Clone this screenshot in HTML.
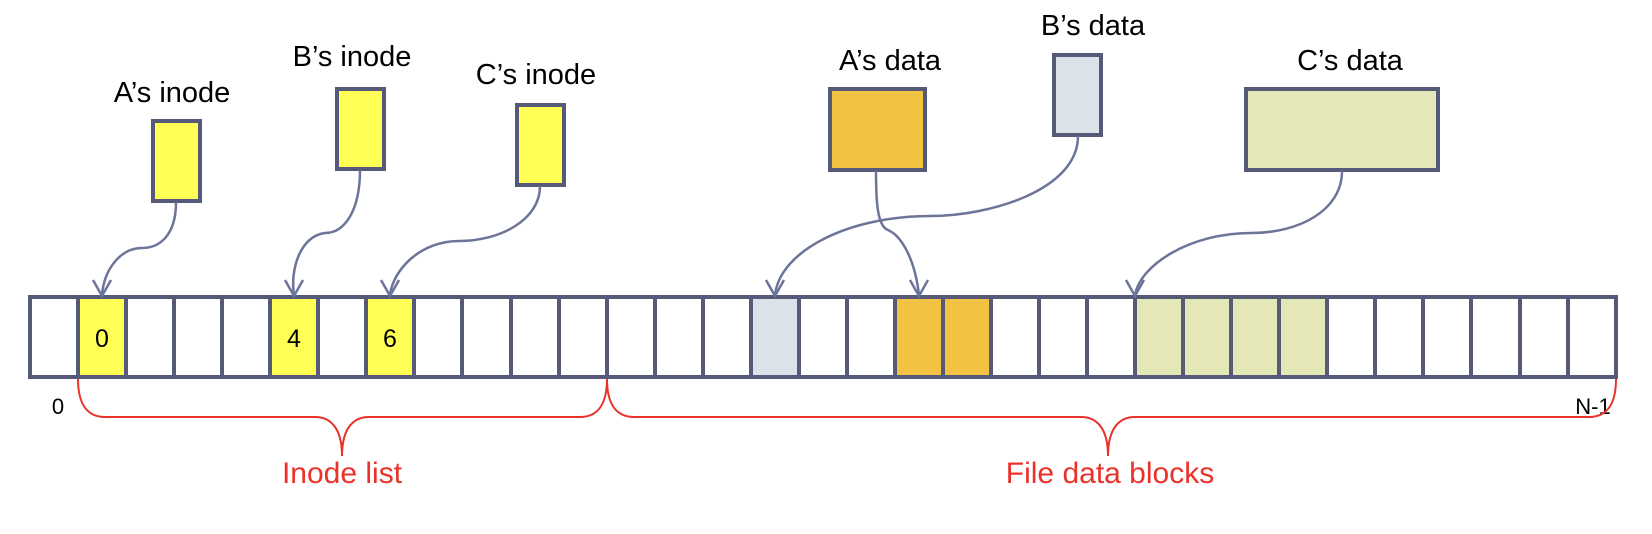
<!DOCTYPE html>
<html><head><meta charset="utf-8"><style>
html,body{margin:0;padding:0;background:#fff}
svg{display:block}
text{font-family:"Liberation Sans",sans-serif}
</style></head><body>
<svg width="1652" height="534" viewBox="0 0 1652 534" xmlns="http://www.w3.org/2000/svg">
<!-- labels -->
<g font-size="29" fill="#000" text-anchor="middle">
<text x="172" y="102">A’s inode</text>
<text x="352" y="66">B’s inode</text>
<text x="536" y="84">C’s inode</text>
<text x="890" y="70">A’s data</text>
<text x="1093" y="35">B’s data</text>
<text x="1350" y="70">C’s data</text>
</g>
<!-- top boxes -->
<g stroke="#555a78" stroke-width="4">
<rect x="153" y="121" width="47" height="80" fill="#ffff55"/>
<rect x="337" y="89" width="47" height="80" fill="#ffff55"/>
<rect x="517" y="105" width="47" height="80" fill="#ffff55"/>
<rect x="830" y="89" width="95" height="81" fill="#f2c242"/>
<rect x="1054" y="55" width="47" height="80" fill="#dbe2ea"/>
<rect x="1246" y="89" width="192" height="81" fill="#e4e8b8"/>
</g>
<!-- row -->
<g stroke="#555a78" stroke-width="4">
<rect x="30" y="297" width="1586" height="80" fill="#fff"/>
<rect x="78" y="297" width="48" height="80" fill="#ffff55"/>
<rect x="270" y="297" width="48" height="80" fill="#ffff55"/>
<rect x="366" y="297" width="48" height="80" fill="#ffff55"/>
<rect x="751" y="297" width="48" height="80" fill="#dbe2ea"/>
<rect x="895" y="297" width="96" height="80" fill="#f2c242"/>
<rect x="1135" y="297" width="192" height="80" fill="#e4e8b8"/>
<path d="M78 297V377M126 297V377M174 297V377M222 297V377M270 297V377M318 297V377M366 297V377M414 297V377M462 297V377M511 297V377M559 297V377M607 297V377M655 297V377M703 297V377M751 297V377M799 297V377M847 297V377M895 297V377M943 297V377M991 297V377M1039 297V377M1087 297V377M1135 297V377M1183 297V377M1231 297V377M1279 297V377M1327 297V377M1375 297V377M1423 297V377M1471 297V377M1520 297V377M1568 297V377" fill="none"/>
</g>
<g font-size="25" fill="#000" text-anchor="middle">
<text x="102" y="347">0</text>
<text x="294" y="347">4</text>
<text x="390" y="347">6</text>
<text x="58" y="414" font-size="22">0</text>
<text x="1593" y="414" font-size="22">N-1</text>
</g>
<!-- connectors -->
<g stroke="#6d7499" stroke-width="2.5" fill="none">
<path d="M176,202 C176,235 160,248 142,248 C120,248 104,270 102,295"/>
<path d="M360,170 C360,210 345,233 325,233 C300,236 290,270 294,295"/>
<path d="M540,186 C540,220 500,241 459,241 C420,241 393,270 390,295"/>
<path d="M1078,136 C1078,190 990,216 930,216 C850,216 780,250 775,295"/>
<path d="M876,171 C876,200 877,226 888,230 C902,236 915,260 919,295"/>
<path d="M1342,171 C1342,210 1300,233 1251,233 C1190,233 1140,265 1135,295"/>
<path d="M93,280 L102,296 L111,280 M285,280 L294,296 L303,280 M381,280 L390,296 L399,280 M766,280 L775,296 L784,280 M910,280 L919,296 L928,280 M1126,280 L1135,296 L1144,280"/>
</g>
<!-- braces -->
<g stroke="#e8322a" stroke-width="2" fill="none">
<path d="M78,379 C78,405 88,417 105,417 L315,417 C332,417 342,430 342,456 C342,430 352,417 369,417 L580,417 C597,417 607,405 607,379"/>
<path d="M607,379 C607,405 617,417 634,417 L1081,417 C1098,417 1108,430 1108,456 C1108,430 1118,417 1135,417 L1589,417 C1606,417 1616,405 1616,379"/>
</g>
<g font-size="30" fill="#e8322a" text-anchor="middle">
<text x="342" y="483">Inode list</text>
<text x="1110" y="483">File data blocks</text>
</g>
</svg>
</body></html>
